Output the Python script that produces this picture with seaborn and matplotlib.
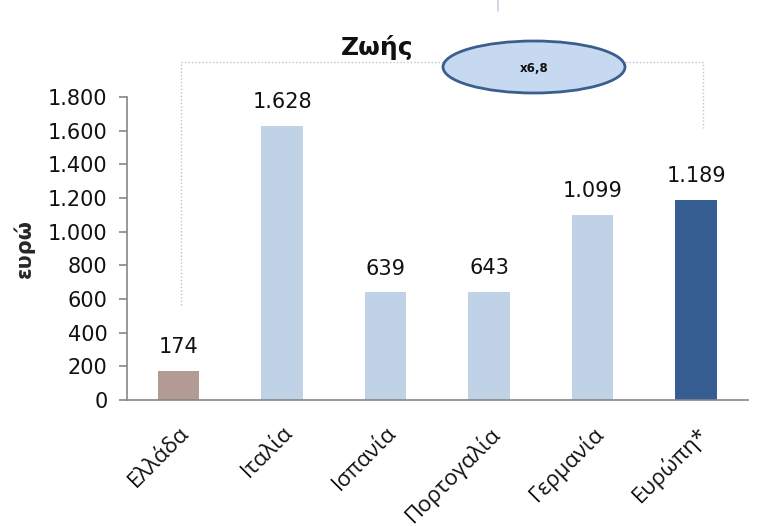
import matplotlib
matplotlib.use("Agg")
import matplotlib.pyplot as plt
from matplotlib.patches import Ellipse
from matplotlib.lines import Line2D
import seaborn as sns
import pandas as pd

categories = ["Ελλάδα", "Ιταλία", "Ισπανία", "Πορτογαλία", "Γερμανία", "Ευρώπη*"]
values = [174, 1628, 639, 643, 1099, 1189]
bar_colors = ["#b19b93", "#c0d3e6", "#c0d3e6", "#c0d3e6", "#c0d3e6", "#365e92"]
y_ticks = [0, 200, 400, 600, 800, 1000, 1200, 1400, 1600, 1800]
title_text = "Ζωής"
y_label = "ευρώ"
ratio_text = "x6,8"


def fmt(v):
    return f"{int(round(v)):,}".replace(",", ".")


sns.set_theme(style="white")
plt.rcParams["font.family"] = ["DejaVu Sans"]

df = pd.DataFrame({"cat": categories, "val": values})

fig = plt.figure(figsize=(7.6, 5.26), dpi=100)
ax = fig.add_axes([0.167, 0.2395, 0.817, 0.576])

sns.barplot(data=df, x="cat", y="val", hue="cat", palette=bar_colors,
            order=categories, hue_order=categories, width=0.4,
            legend=False, ax=ax, saturation=1, edgecolor="none", linewidth=0)

for c in ax.containers:
    ax.bar_label(c, labels=[fmt(v) for v in c.datavalues], padding=10,
                 fontsize=15, color="#111111")

ax.set_ylim(0, 1800)
ax.set_xlim(-0.5, len(categories) - 0.5)
ax.set_yticks(y_ticks)
ax.set_yticklabels([fmt(v) for v in y_ticks], fontsize=15, color="#111111")
ax.set_xticks(range(len(categories)))
ax.set_xticklabels(categories, rotation=45, ha="right", rotation_mode="anchor",
                   fontsize=16, family=["Open Sans", "DejaVu Sans"], color="#111111")
ax.set_xticks([i - 0.5 for i in range(len(categories) + 1)], minor=True)
ax.tick_params(axis="x", which="major", length=0, pad=16)
ax.tick_params(axis="x", which="minor", length=6, width=1.2, color="#868686", direction="out")
ax.tick_params(axis="y", length=6, width=1.2, color="#868686", direction="out", pad=8, left=True)
ax.set_xlabel("")
ax.set_ylabel(y_label, fontsize=15, fontweight="bold")
ax.yaxis.set_label_coords(-0.148, 0.5)

for s in ["top", "right"]:
    ax.spines[s].set_visible(False)
for s in ["left", "bottom"]:
    ax.spines[s].set_color("#868686")
    ax.spines[s].set_linewidth(1.2)

# dotted bracket
bracket = dict(color="#b8c4d4", lw=1.0, ls=(0, (1, 1.5)), clip_on=False)
ax.plot([0.02, 0.02, 5.07, 5.07], [564, 2008, 2008, 1616], **bracket)

# title
fig.text(377 / 760, 1 - 48 / 526, title_text, ha="center", va="center",
         fontsize=18, fontweight="bold", color="#111111")

# ellipse with ratio
ell = Ellipse((534 / 760, 1 - 67 / 526), 182 / 760, 52 / 526,
              transform=fig.transFigure, facecolor="#c6d9f0",
              edgecolor="#3a5f8e", lw=2)
fig.add_artist(ell)
fig.text(534 / 760, 1 - 68 / 526, ratio_text, ha="center", va="center",
         fontsize=8.5, fontweight="bold", color="#111111")

# small line at top
fig.add_artist(Line2D([498 / 760, 498 / 760], [1, 1 - 11 / 526],
                      transform=fig.transFigure, color="#c7d3e3", lw=1.2))

fig.savefig("out.png", dpi=100)
